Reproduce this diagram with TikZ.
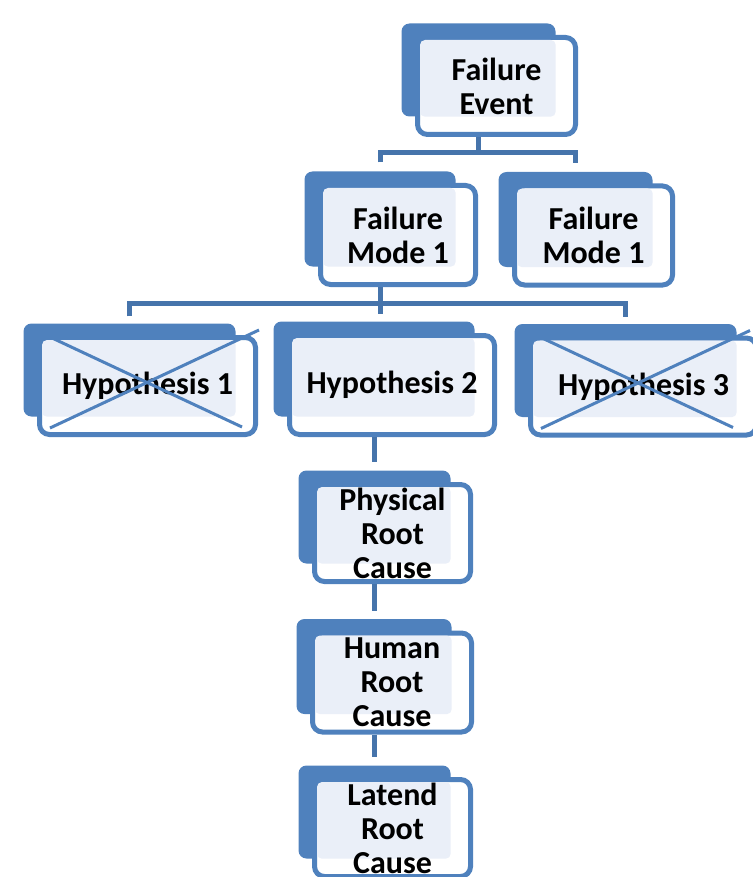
\documentclass[tikz,border=0pt]{standalone}
\usepackage{fontspec}
\setmainfont{Carlito}
\usetikzlibrary{calc}

\definecolor{boxblue}{HTML}{4F81BD}
\definecolor{linkblue}{HTML}{4674AB}
\definecolor{paleblue}{HTML}{EAEFF8}

\tikzset{
  backbox/.style={fill=boxblue, rounded corners=8pt, inner sep=0pt},
  frontbox/.style={draw=boxblue, fill=white, line width=5pt, rounded corners=10pt, inner sep=0pt},
  boxtext/.style={align=center, font=\bfseries\fontsize{32}{34}\selectfont},
  link/.style={draw=linkblue, line width=5pt},
  strike/.style={draw=boxblue, line width=3pt}
}

% name, front centre, width, height, text
\newcommand{\stackbox}[5]{%
  \node[backbox, minimum width=#3-9, minimum height=#4-9] (#1-b) at ($(#2)+(-18,-16)$) {};
  \node[frontbox, minimum width=#3-5, minimum height=#4-5] (#1) at (#2) {};
  \fill[paleblue, rounded corners=5pt] ($(#1.north west)+(5,5)$) rectangle (#1-b.south east);
  \node[boxtext] (#1-t) at (#2) {#5};
}

\begin{document}
\begin{tikzpicture}[x=1pt, y=-1pt]
                \useasboundingbox (0,0) rectangle (752,877);
                \stackbox{fe}{496.5,86}{163}{102}{Failure\\Event}
                \stackbox{fm1}{398,235}{160}{104}{Failure\\Mode 1}
                \stackbox{fm2}{593.5,235.5}{163}{104}{Failure\\Mode 1}
                \stackbox{h1}{147.5,386}{221}{102}{Hypothesis 1}
                \stackbox{h2}{392,385}{210}{104}{Hypothesis 2}
                \stackbox{h3}{643.5,386.5}{231}{102}{Hypothesis 3}
                \stackbox{prc}{392.5,533}{161}{102}{Physical\\Root\\Cause}
                \stackbox{hrc}{392,682.5}{164}{104}{Human\\Root\\Cause}
                \stackbox{lrc}{392.5,828}{161}{102}{Latend\\Root\\Cause}
                \draw[strike] ($(h1.north west)+(-2,-5)$) -- ($(h1.north west)+(205,92)$);
                \draw[strike] ($(h1.north west)+(13,93)$) -- ($(h1.north west)+(222,-5)$);
                \draw[strike] ($(h3.north west)+(-2,-5)$) -- ($(h3.north west)+(205,92)$);
                \draw[strike] ($(h3.north west)+(13,93)$) -- ($(h3.north west)+(222,-5)$);
                \coordinate (fork1) at (478.5,153);
                \coordinate (fork2) at (380,303);
                \draw[link] (fe-b |- fe.south) -- (fork1);
                \draw[link] ($(fm1-b.north)+(0,-9)$) |- (fork1) -| ($(fm2-b.north)+(0,-9)$);
                \draw[link] (fm1-b |- fm1.south) -- (fork2);
                \draw[link] ($(h1-b.north)+(0,-7)$) |- (fork2) -| ($(h3-b.north)+(0,-7)$);
                \draw[link] (fork2) -- ($(fork2 |- h2-b.north)+(0,-7)$);
                \draw[link] (prc-b |- h2.south) -- ($(prc-b.north)+(0,-8)$);
                \draw[link] (hrc-b |- prc.south) -- ($(hrc-b.north)+(0,-8)$);
                \draw[link] (lrc-b |- hrc.south) -- ($(lrc-b.north)+(0,-8)$);
            \end{tikzpicture}
\end{document}
